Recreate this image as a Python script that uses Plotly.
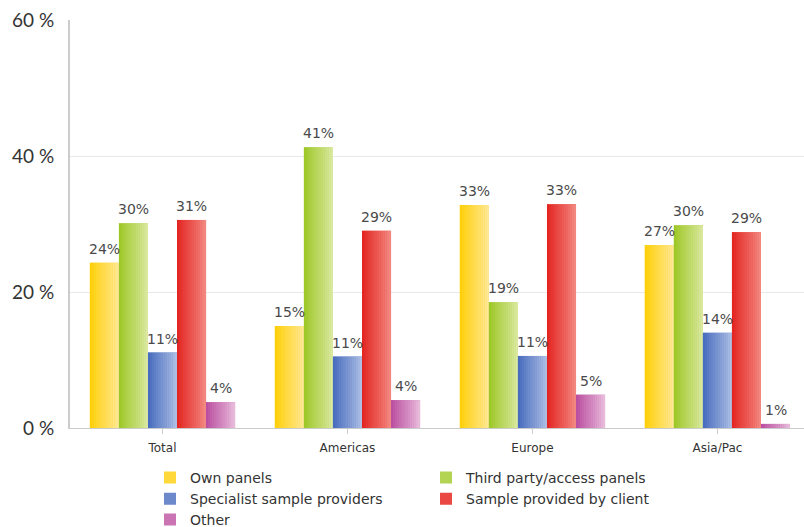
import plotly.graph_objects as go

categories = ["Total", "Americas", "Europe", "Asia/Pac"]
series_names = ["Own panels", "Third party/access panels", "Specialist sample providers",
                "Sample provided by client", "Other"]
own_panels = [24.3, 15.0, 32.8, 26.9]
third_party = [30.1, 41.3, 18.5, 29.8]
specialist = [11.1, 10.5, 10.6, 14.0]
client = [30.6, 29.0, 32.9, 28.8]
other = [3.8, 4.1, 4.9, 0.6]
labels_own = ["24%", "15%", "33%", "27%"]
labels_third = ["30%", "41%", "19%", "30%"]
labels_spec = ["11%", "11%", "11%", "14%"]
labels_client = ["31%", "29%", "33%", "29%"]
labels_other = ["4%", "4%", "5%", "1%"]
y_ticks = [0, 20, 40, 60]
y_tick_text = ["0 %", "20 %", "40 %", "60 %"]

values = [own_panels, third_party, specialist, client, other]
texts = [labels_own, labels_third, labels_spec, labels_client, labels_other]
grad = [((255, 208, 10), (255, 232, 150)),
        ((158, 200, 40), (218, 232, 160)),
        ((72, 108, 190), (172, 190, 228)),
        ((228, 38, 34), (242, 135, 128)),
        ((186, 78, 160), (232, 186, 218))]

def mix(a, b, t):
    return "rgb(%d,%d,%d)" % tuple(round(a[i] + (b[i] - a[i]) * t) for i in range(3))

w = 0.157
N = 14
fig = go.Figure()
annotations = []
for s in range(5):
    left, right = grad[s]
    base_off = -2.5 * w + s * w
    fig.add_trace(go.Bar(
        x=list(range(4)), y=values[s], name=series_names[s],
        offset=base_off, width=w, marker=dict(color=mix(left, right, 0.35), line=dict(width=0)),
        showlegend=True, hoverinfo="skip",
        legend="legend2" if s == 4 else "legend"))
    for k in range(N):
        fig.add_trace(go.Bar(
            x=list(range(4)), y=values[s], offset=base_off + k * w / N, width=w / N * 1.02,
            marker=dict(color=mix(left, right, k / (N - 1)), line=dict(width=0)),
            showlegend=False, hoverinfo="skip"))
    for c in range(4):
        annotations.append(dict(
            x=c + base_off + w / 2, y=values[s][c], xref="x", yref="y",
            text=texts[s][c], showarrow=False, yanchor="bottom", yshift=4,
            font=dict(family="DejaVu Sans", size=14, color="#4a4a4a")))

legend_font = dict(family="DejaVu Sans", size=14, color="#333")
fig.update_layout(
    width=804, height=527, barmode="overlay",
    margin=dict(l=70, r=0, t=20, b=99, autoexpand=False),
    plot_bgcolor="white", paper_bgcolor="white",
    font=dict(family="DejaVu Sans", color="#333"),
    annotations=annotations,
    xaxis=dict(range=[-0.5, 3.468], tickmode="array", tickvals=list(range(4)), ticktext=categories,
               tickson="boundaries", ticks="outside", ticklen=5, tickcolor="#cccccc",
               showline=True, linecolor="#cccccc", linewidth=1, showgrid=False,
               tickfont=dict(family="DejaVu Sans", size=12, color="#333"), ticklabelstandoff=4),
    yaxis=dict(range=[0, 60], tickmode="array", tickvals=y_ticks, ticktext=y_tick_text, showline=True,
               linecolor="#cccccc", linewidth=2, gridcolor="#e8e8e8", zeroline=False,
               tickfont=dict(family="Lato", size=19, color="#333"), ticklabelstandoff=10),
    legend=dict(orientation="h", x=0.109, xanchor="left", y=-0.083, yanchor="top",
                entrywidth=231, entrywidthmode="pixels", itemwidth=30,
                font=legend_font, bgcolor="rgba(0,0,0,0)"),
    legend2=dict(orientation="h", x=0.109, xanchor="left", y=-0.186, yanchor="top",
                 itemwidth=30, font=legend_font, bgcolor="rgba(0,0,0,0)"),
)
fig.write_html("out.html")
